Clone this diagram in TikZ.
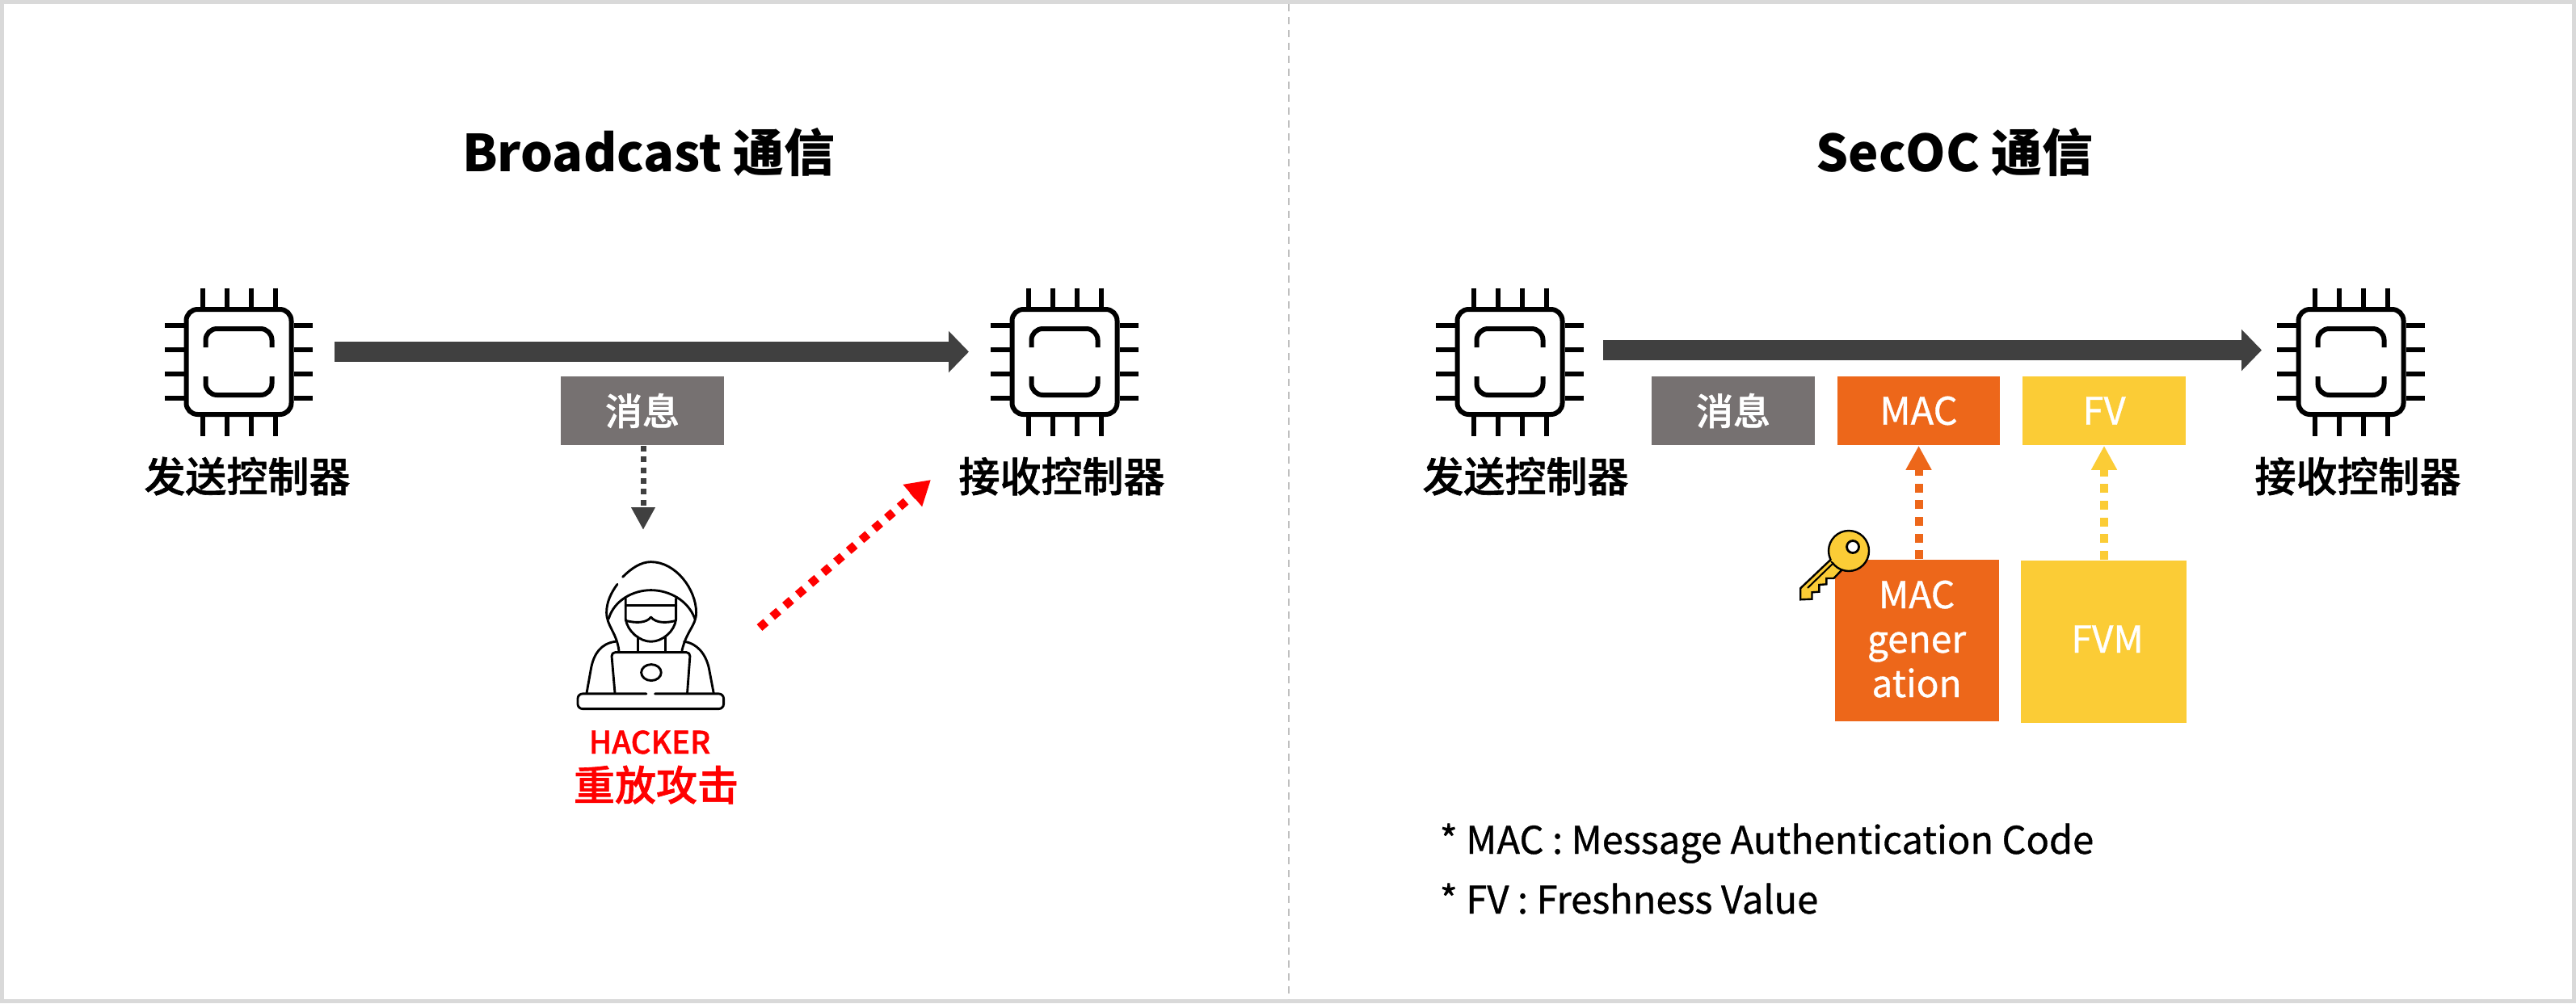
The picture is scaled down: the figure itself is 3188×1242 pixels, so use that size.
\documentclass[tikz,border=0pt]{standalone}
\usepackage{fontspec}
\setmainfont{Noto Sans CJK SC}
\newfontfamily\medfont{Noto Sans CJK SC}[UprightFont=* Medium,FakeBold=1.2]
\newfontfamily\notefont{Noto Sans CJK SC}[FakeBold=0.8]
\usetikzlibrary{arrows.meta,calc}
\definecolor{framegray}{HTML}{D9D9D9}
\definecolor{dashgray}{HTML}{BFBFBF}
\definecolor{darkarrow}{HTML}{404040}
\definecolor{msggray}{HTML}{767171}
\definecolor{macorange}{HTML}{ED671A}
\definecolor{fvyellow}{HTML}{FBCC36}
\newcommand{\fs}[1]{\fontsize{#1}{#1}\selectfont}
\tikzset{
  x=0.25pt,y=-0.25pt,
  txt/.style={inner sep=0pt,anchor=base},
  chiplabel/.style={txt,font=\medfont\fs{12.75}},
  titletxt/.style={txt,font=\bfseries\fs{15.75}},
  boxtxt/.style={txt,text=white,font=\notefont\fs{11.5}},
  noteline/.style={inner sep=0pt,anchor=base west,font=\notefont\fs{11.75}},
  chipbox/.style={inner sep=0pt,minimum width=45.75pt,minimum height=45.75pt},
  bigarrow/.style={draw=darkarrow,line width=6.25pt,-{Triangle[length=6.25pt,width=12.5pt]}},
  msgbox/.style={fill=msggray,inner sep=0pt,text=white,font=\medfont\fs{11.5},minimum width=50.5pt,minimum height=21.25pt},
  macbox/.style={fill=macorange,inner sep=0pt,minimum width=50.25pt,minimum height=21.25pt},
  fvbox/.style={fill=fvyellow,inner sep=0pt,minimum width=50.5pt,minimum height=21.25pt},
  chipline/.style={draw=black,line width=1.5pt},
  iconline/.style={draw=black,line width=0.72pt,line cap=round,line join=round},
  chipicon/.pic={
    \draw[chipline,rounded corners=3.5pt] (-65,-65) rectangle (65,65);
    \foreach \p in {-45,-15,15,45}{
      \draw[chipline] (\p,-91.5) -- (\p,-68);
      \draw[chipline] (\p,91.5) -- (\p,68);
      \draw[chipline] (-91.5,\p) -- (-68,\p);
      \draw[chipline] (91.5,\p) -- (68,\p);
    }
    \draw[chipline,rounded corners=3.5pt] (-41,-18) -- (-41,-41) -- (41,-41) -- (41,-18);
    \draw[chipline,rounded corners=3.5pt] (-41,18) -- (-41,41) -- (41,41) -- (41,18);
  }
}
\begin{document}
\begin{tikzpicture}
\useasboundingbox (0,0) rectangle (3188,1242);
% frame and divider
\draw[framegray,line width=1.25pt] (2.5,2.5) rectangle (3185.5,1239.5);
\draw[dashgray,line width=0.5pt,dash pattern=on 2.25pt off 1.75pt] (1595,5) -- (1595,1237);
% titles
\node[titletxt] (t1) at (803,212) {Broadcast 通信};
\node[titletxt] (t2) at (2419,212) {SecOC 通信};
% chips
\node[chipbox] (chip1) at (295.5,448) {};
\node[chipbox] (chip2) at (1317.5,448) {};
\node[chipbox] (chip3) at (1868.5,448) {};
\node[chipbox] (chip4) at (2909.5,448) {};
\pic at (chip1) {chipicon};
\pic at (chip2) {chipicon};
\pic at (chip3) {chipicon};
\pic at (chip4) {chipicon};
\node[chiplabel] (l1) at (306,609) {发送控制器};
\node[chiplabel] (l2) at (1314,609) {接收控制器};
\node[chiplabel] (l3) at (1888,609) {发送控制器};
\node[chiplabel] (l4) at (2918,609) {接收控制器};
% main arrows
\coordinate (a1s) at (414,435.5);
\coordinate (a1e) at (1199,435.5);
\coordinate (a2s) at (1984,433.5);
\coordinate (a2e) at (2799,433.5);
\draw[bigarrow] (a1s) -- (a1e);
\draw[bigarrow] (a2s) -- (a2e);
% message boxes
\node[msgbox] (m1) at (795,508.5) {消息};
\node[msgbox] (m2) at (2145,508.5) {消息};
\node[macbox,text=white,font=\notefont\fs{11.75}] (mac) at (2374.5,508.5) {MAC};
\node[fvbox,text=white,font=\notefont\fs{11.75}] (fv) at (2604,508.5) {FV};
% generators
\node[fill=macorange,inner sep=0pt,minimum width=50.75pt,minimum height=50pt] (gen) at (2372.5,793) {};
\node[fill=fvyellow,inner sep=0pt,minimum width=51.25pt,minimum height=50.25pt] (fvm) at (2603.5,794) {};
\node[boxtxt] (g1) at (2372,753) {MAC};
\node[boxtxt] (g2) at (2372,808) {gener};
\node[boxtxt] (g3) at (2372,863) {ation};
\node[boxtxt] (fvmt) at (2608,808) {FVM};
% dashed arrows
\draw[macorange,line width=2.5pt,dash pattern=on 2.75pt off 2.4pt,-{Triangle[length=7.5pt,width=7.5pt]}] (gen.north -| mac.south) -- (mac.south);
\draw[fvyellow,line width=2.5pt,dash pattern=on 2.75pt off 2.4pt,-{Triangle[length=7.5pt,width=7.5pt]}] (fvm.north -| fv.south) -- (fv.south);
% hacker
\node[inner sep=0pt,minimum width=45.5pt,minimum height=46pt] (hacker) at (806,786) {};
\coordinate (grayend) at (796,656);
\draw[darkarrow,line width=1.75pt,dash pattern=on 1.75pt off 1.6pt,-{Triangle[length=7pt,width=7pt]}] (m1.south -| grayend) -- (grayend);
\begin{scope}[shift={(660,660)},x=0.0833pt,y=-0.0833pt]
  \draw[iconline] (332,163) .. controls (365,130) and (400,107) .. (437,107) .. controls (530,107) and (605,210) .. (605,295) .. controls (605,345) and (570,360) .. (552,437);
  \draw[iconline] (312,190) .. controls (290,220) and (272,255) .. (272,295) .. controls (272,345) and (310,370) .. (318,437);
  \draw[iconline] (280,318) .. controls (300,250) and (370,212) .. (437,212) .. controls (505,212) and (575,250) .. (600,318);
  \draw[iconline] (343,243) -- (343,320) .. controls (350,365) and (395,403) .. (437,403) .. controls (480,403) and (525,365) .. (530,320) -- (530,243);
  \draw[iconline] (343,268) -- (530,268);
  \draw[iconline] (343,325) .. controls (380,335) and (420,335) .. (437,312) .. controls (455,335) and (495,335) .. (530,325);
  \draw[iconline] (388,385) -- (388,438);
  \draw[iconline] (490,385) -- (490,438);
  \draw[iconline] (305,403) .. controls (250,410) and (225,450) .. (215,500) -- (198,595);
  \draw[iconline] (560,403) .. controls (610,410) and (640,450) .. (652,500) -- (670,595);
  \draw[iconline,rounded corners=1.2pt] (303,593) -- (290,443) -- (583,443) -- (572,593);
  \draw[iconline] (438,518) ellipse [x radius=37,y radius=30];
  \draw[iconline,rounded corners=1.5pt] (420,597) -- (165,597) -- (165,653) -- (707,653) -- (707,597) -- (452,597);
\end{scope}
\node[txt,text=red,font=\medfont\fs{9.6}] (hk) at (804,933) {HACKER};
\node[txt,text=red,font=\medfont\fs{12.75}] (ra) at (812,991) {重放攻击};
\coordinate (reds) at (940,777);
\coordinate (rede) at (1152,594);
\draw[red,line width=2.6pt,dash pattern=on 2.6pt off 2.6pt,-{Triangle[length=7.5pt,width=8.5pt]}] (reds) -- (rede);
% key
\node[inner sep=0pt,minimum width=16pt,minimum height=16pt] (key) at (2262,700) {};
\draw[black,line width=0.6pt,fill=fvyellow,line join=miter] (2265.7,692.7) -- (2228.2,728.3) -- (2228.2,742.3) -- (2242.5,741.7) -- (2242.5,733.3) -- (2251.4,732.7) -- (2251.4,724) -- (2260.4,723.3) -- (2260.4,716) -- (2269.3,716) -- (2280,705) -- cycle;
\draw[black,line width=0.6pt,fill=fvyellow] (2288,682) circle [radius=25];
\fill[fvyellow] (2266,694) -- (2280,704) -- (2275,680) -- cycle;
\draw[black,line width=0.5pt] (2269.3,696.7) -- (2237,728);
\draw[black,line width=0.7pt,fill=white] (2293,677) circle [radius=7.5];
% notes
\node[noteline] (n1) at (1781,1057) {* MAC : Message Authentication Code};
\node[noteline] (n2) at (1781,1131) {* FV : Freshness Value};
\end{tikzpicture}
\end{document}
